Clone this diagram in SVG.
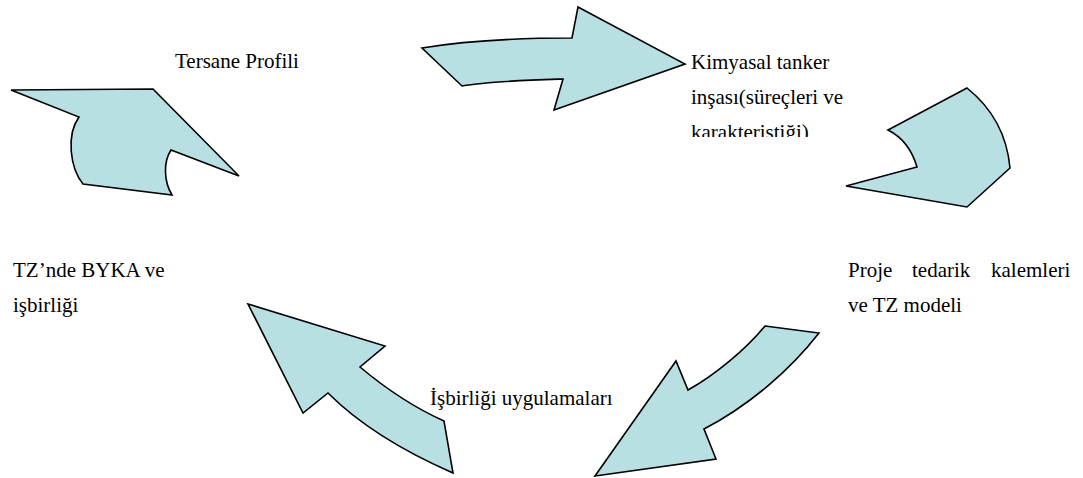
<svg xmlns="http://www.w3.org/2000/svg" width="1083" height="478" viewBox="0 0 1083 478">
  <style>
    .arrow { fill: #b8dfe2; stroke: #000; stroke-width: 1.6; stroke-linejoin: miter; }
    .label { font-family: "Liberation Serif", "Times New Roman", serif; font-size: 21px; fill: #000; }
  </style>
  <defs>
    <clipPath id="clip-kimya">
      <rect x="680" y="40" width="180" height="97"/>
    </clipPath>
  </defs>

  <!-- curved block arrows forming the cycle -->
  <g id="connectors">
    <path id="arrow-top" class="arrow" d="M422,48 C470,40 520,38 572,38 L578,7 L685,64 L554,110 L563,79 C530,80 490,81 462,86 Z"/>
    <path id="arrow-right" class="arrow" d="M967,88 C992,108 1007,135 1010,168 L967,207 L846,186 L917,167 C912,150 902,137 888,130 Z"/>
    <path id="arrow-bottom-right" class="arrow" d="M765,326 L819,333 C790,370 750,405 704,429 L716,459 L595,476 L676,361 L688,390 C715,375 745,350 765,326 Z"/>
    <path id="arrow-bottom-left" class="arrow" d="M248,304 L385,346 L360,367 C385,388 415,408 444,421 L453,473 C405,452 360,425 328,393 L303,413 Z"/>
    <path id="arrow-top-left" class="arrow" d="M11,90 L153,89 L239,176 L171,150 C163,162 164,182 172,195 L83,184 C70,168 66,135 79,117 Z"/>
  </g>

  <g id="node-tersane">
    <text class="label" x="175" y="68">Tersane Profili</text>
  </g>

  <g id="node-kimyasal" clip-path="url(#clip-kimya)">
    <text class="label" x="691" y="69">Kimyasal tanker</text>
    <text class="label" x="691" y="104">inşası(süreçleri ve</text>
    <text class="label" x="691" y="139">karakteristiği)</text>
  </g>

  <g id="node-proje">
    <text class="label" x="848" y="277">Proje<tspan x="912">tedarik</tspan><tspan x="991">kalemleri</tspan></text>
    <text class="label" x="848" y="312">ve TZ modeli</text>
  </g>

  <g id="node-isbirligi">
    <text class="label" x="430" y="405">İşbirliği uygulamaları</text>
  </g>

  <g id="node-tz">
    <text class="label" x="13" y="277">TZ’nde BYKA ve</text>
    <text class="label" x="13" y="312">işbirliği</text>
  </g>
</svg>
